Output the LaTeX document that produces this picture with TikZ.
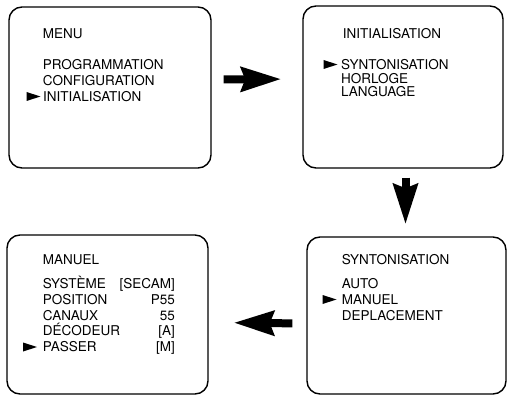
\documentclass[tikz,border=0pt]{standalone}
\usepackage{fontspec}
\setmainfont{TeX Gyre Heros}
\usetikzlibrary{arrows.meta}

\tikzset{
	screen/.style={draw, line width=1.4pt, rounded corners=13pt, inner sep=0pt},
	item/.style={anchor=base west, inner sep=0pt, font=\fontsize{13.5}{13.5}\selectfont},
	value/.style={anchor=base east, inner sep=0pt, font=\fontsize{13.5}{13.5}\selectfont},
	bigarrow/.style={line width=8pt, -{Stealth[length=40pt,width=24pt,inset=4pt]}},
	pointer/.pic={\fill (0,-4.5) -- (14,0) -- (0,4.5) -- cycle;}
}

\begin{document}
\begin{tikzpicture}[x=1pt,y=-1pt]
	\useasboundingbox (0,0) rectangle (507,396);
	% screens
	\node[screen, minimum width=202pt, minimum height=161pt] (menu) at (110,87.5) {};
	\node[screen, minimum width=200pt, minimum height=162pt] (init) at (403,87) {};
	\node[screen, minimum width=199pt, minimum height=157pt] (synto) at (406.5,315.5) {};
	\node[screen, minimum width=201pt, minimum height=159pt] (manuel) at (107.5,314.5) {};
	% menu
	\node[item] (menutitle) at (42.7,39) {MENU};
	\node[item] (prog) at (42.7,69.3) {PROGRAMMATION};
	\node[item] (config) at (42.7,85.3) {CONFIGURATION};
	\node[item] (initm) at (43,101.3) {INITIALISATION};
	\pic at (26.5,96.5) {pointer};
	% initialisation
	\node[item] (inittitle) at (342.7,39) {INITIALISATION};
	\node[item] (syntoi) at (341,69.3) {SYNTONISATION};
	\node[item] (horloge) at (341,83.3) {HORLOGE};
	\node[item] (language) at (341,96.7) {LANGUAGE};
	\pic at (323.5,64.5) {pointer};
	% syntonisation
	\node[item] (syntotitle) at (341.7,265) {SYNTONISATION};
	\node[item] (auto) at (341.7,288.3) {AUTO};
	\node[item] (manuelm) at (341.7,304) {MANUEL};
	\node[item] (deplace) at (341.7,320) {DEPLACEMENT};
	\pic at (322.5,299.5) {pointer};
	% manuel
	\node[item] (manueltitle) at (42.7,264) {MANUEL};
	\node[item] (systeme) at (42.7,288.3) {SYSTÈME};
	\node[item] (position) at (42.7,304) {POSITION};
	\node[item] (canaux) at (42.7,320) {CANAUX};
	\node[item] (decodeur) at (42.7,335.7) {DÉCODEUR};
	\node[item] (passer) at (42.7,351.7) {PASSER};
	\node[value] (secam) at (175,288.3) {[SECAM]};
	\node[value] (pnum) at (175,304) {P55};
	\node[value] (cnum) at (175,320) {55};
	\node[value] (dval) at (175,335.7) {[A]};
	\node[value] (pval) at (175,351.7) {[M]};
	\pic at (23,347) {pointer};
	% arrows
	\draw[bigarrow, shorten <=12pt, shorten >=21pt] ([yshift=8pt]menu.east) -- ([yshift=8pt]init.west);
	\draw[bigarrow, shorten <=9pt, shorten >=12pt] ([xshift=2.5pt]init.south) -- ([xshift=2.5pt]init.south |- synto.north);
	\draw[bigarrow, shorten <=14pt, shorten >=25pt] ([yshift=-8pt]synto.west) -- ([yshift=-8pt]manuel.east);
\end{tikzpicture}
\end{document}
